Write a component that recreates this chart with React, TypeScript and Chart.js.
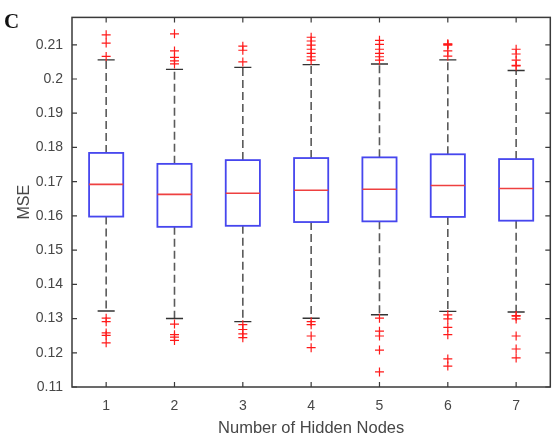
import React, { useEffect, useRef } from 'react';
import { Chart, registerables } from 'chart.js';

Chart.register(...registerables);

const categories = ['1', '2', '3', '4', '5', '6', '7'];
const q1 = [0.1598, 0.1568, 0.1571, 0.1582, 0.1584, 0.1597, 0.1586];
const medians = [0.1692, 0.1663, 0.1666, 0.1675, 0.1678, 0.1689, 0.168];
const q3 = [0.1784, 0.1752, 0.1763, 0.1769, 0.1771, 0.178, 0.1766];
const whiskerLow = [0.1322, 0.13, 0.1291, 0.1301, 0.1311, 0.1321, 0.1319];
const whiskerHigh = [0.2056, 0.2028, 0.2034, 0.2042, 0.2044, 0.2056, 0.2025];
const outliers1 = [0.2129, 0.2105, 0.2066, 0.1301, 0.1291, 0.1258, 0.1251, 0.1229];
const outliers2 = [0.2132, 0.2082, 0.2063, 0.2053, 0.2044, 0.1284, 0.1253, 0.1246, 0.1236];
const outliers3 = [0.2096, 0.2084, 0.205, 0.1282, 0.1268, 0.1255, 0.1244];
const outliers4 = [0.2122, 0.2111, 0.2099, 0.2087, 0.2075, 0.2065, 0.2055, 0.1291, 0.1282, 0.1249, 0.1215];
const outliers5 = [0.2113, 0.2101, 0.2087, 0.2075, 0.2065, 0.2055, 0.1301, 0.1263, 0.1249, 0.1208, 0.1144];
const outliers6 = [0.2103, 0.2101, 0.2099, 0.2082, 0.2067, 0.1311, 0.1299, 0.1274, 0.1253, 0.1182, 0.1161];
const outliers7 = [0.2087, 0.2073, 0.2055, 0.204, 0.2038, 0.1309, 0.1307, 0.1299, 0.1249, 0.1211, 0.1185];
const outliers = [outliers1, outliers2, outliers3, outliers4, outliers5, outliers6, outliers7];
const yTicks = [0.11, 0.12, 0.13, 0.14, 0.15, 0.16, 0.17, 0.18, 0.19, 0.2, 0.21];

const FONT = '"Liberation Sans", Arial, sans-serif';
const TEXT = '#474747';

const boxPlugin = {
  id: 'boxPlugin',
  beforeDatasetsDraw(chart: any) {
    const { ctx, scales } = chart;
    const xs = scales.x;
    const ys = scales.y;
    const half = xs.getPixelForValue(1.25) - xs.getPixelForValue(1);
    const capHalf = xs.getPixelForValue(1.125) - xs.getPixelForValue(1);
    ctx.save();
    categories.forEach((c, i) => {
      const cx = xs.getPixelForValue(Number(c));
      const yq1 = ys.getPixelForValue(q1[i]);
      const yq3 = ys.getPixelForValue(q3[i]);
      const ym = ys.getPixelForValue(medians[i]);
      const ylo = ys.getPixelForValue(whiskerLow[i]);
      const yhi = ys.getPixelForValue(whiskerHigh[i]);
      ctx.strokeStyle = '#5a5a5a';
      ctx.lineWidth = 1.6;
      ctx.setLineDash([8, 4]);
      ctx.beginPath();
      ctx.moveTo(cx, yq3);
      ctx.lineTo(cx, yhi);
      ctx.moveTo(cx, yq1);
      ctx.lineTo(cx, ylo);
      ctx.stroke();
      ctx.setLineDash([]);
      ctx.strokeStyle = '#333333';
      ctx.lineWidth = 1.4;
      ctx.beginPath();
      ctx.moveTo(cx - capHalf, yhi);
      ctx.lineTo(cx + capHalf, yhi);
      ctx.moveTo(cx - capHalf, ylo);
      ctx.lineTo(cx + capHalf, ylo);
      ctx.stroke();
      ctx.fillStyle = '#ffffff';
      ctx.fillRect(cx - half, yq3, 2 * half, yq1 - yq3);
      ctx.strokeStyle = '#4646ee';
      ctx.lineWidth = 1.8;
      ctx.strokeRect(cx - half, yq3, 2 * half, yq1 - yq3);
      ctx.strokeStyle = '#ee4040';
      ctx.lineWidth = 1.6;
      ctx.beginPath();
      ctx.moveTo(cx - half, ym);
      ctx.lineTo(cx + half, ym);
      ctx.stroke();
    });
    ctx.restore();
  },
  afterDraw(chart: any) {
    const { ctx, chartArea, scales } = chart;
    const { left, right, top, bottom } = chartArea;
    ctx.save();
    ctx.strokeStyle = '#3a3a3a';
    ctx.lineWidth = 1.5;
    ctx.strokeRect(left, top, right - left, bottom - top);
    ctx.lineWidth = 1.2;
    ctx.beginPath();
    const tl = 5;
    scales.y.ticks.forEach((t: any) => {
      const y = scales.y.getPixelForValue(t.value);
      ctx.moveTo(left, y);
      ctx.lineTo(left + tl, y);
      ctx.moveTo(right, y);
      ctx.lineTo(right - tl, y);
    });
    scales.x.ticks.forEach((t: any) => {
      const x = scales.x.getPixelForValue(t.value);
      ctx.moveTo(x, bottom);
      ctx.lineTo(x, bottom - tl);
      ctx.moveTo(x, top);
      ctx.lineTo(x, top + tl);
    });
    ctx.stroke();
    ctx.fillStyle = '#111111';
    ctx.font = 'bold 21px "Liberation Serif", "Times New Roman", serif';
    ctx.textAlign = 'left';
    ctx.textBaseline = 'alphabetic';
    ctx.fillText('C', 4, 28);
    ctx.restore();
  },
};

export default function App() {
  const ref = useRef<HTMLCanvasElement | null>(null);
  useEffect(() => {
    document.body.style.margin = '0';
    if (!ref.current) return;
    const points: { x: number; y: number }[] = [];
    categories.forEach((c, i) => {
      outliers[i].forEach((v) => points.push({ x: Number(c), y: v }));
    });
    const chart = new Chart(ref.current, {
      type: 'scatter',
      data: {
        datasets: [
          {
            label: 'Outliers',
            data: points,
            pointStyle: 'cross',
            pointRadius: 4.5,
            pointBorderWidth: 1.2,
            borderColor: '#ff1a1a',
            backgroundColor: '#ff1a1a',
          } as any,
        ],
      },
      options: {
        animation: false,
        responsive: false,
        devicePixelRatio: 1,
        layout: { padding: { left: 0, top: 9, right: 4, bottom: 0 } },
        plugins: { legend: { display: false }, tooltip: { enabled: false } },
        scales: {
          x: {
            type: 'linear',
            min: 0.5,
            max: 7.5,
            afterBuildTicks: (s: any) => {
              s.ticks = categories.map((c) => ({ value: Number(c) }));
            },
            afterFit: (s: any) => {
              s.height = 55;
            },
            ticks: {
              font: { family: FONT, size: 14 },
              color: TEXT,
              padding: 11,
              callback: (v: any) => String(v),
            },
            grid: { display: false, drawTicks: false },
            border: { display: false },
            title: {
              display: true,
              text: 'Number of Hidden Nodes',
              font: { family: FONT, size: 16.5 },
              color: TEXT,
              padding: { top: 0, bottom: 4 },
            },
          },
          y: {
            type: 'linear',
            min: 0.11,
            max: 0.218,
            afterBuildTicks: (s: any) => {
              s.ticks = yTicks.map((v) => ({ value: v }));
            },
            afterFit: (s: any) => {
              s.width = 72;
            },
            ticks: {
              font: { family: FONT, size: 14 },
              color: TEXT,
              padding: 9,
              callback: (v: any) => String(Number(Number(v).toFixed(3))),
            },
            grid: { display: false, drawTicks: false },
            border: { display: false },
            title: {
              display: true,
              text: 'MSE',
              font: { family: FONT, size: 16 },
              color: TEXT,
              padding: { top: 15, bottom: 0 },
            },
          },
        },
      },
      plugins: [boxPlugin],
    });
    return () => chart.destroy();
  }, []);
  return (
    <div style={{ width: 556, height: 442 }}>
      <canvas ref={ref} width={556} height={442} style={{ width: 556, height: 442 }} />
    </div>
  );
}
